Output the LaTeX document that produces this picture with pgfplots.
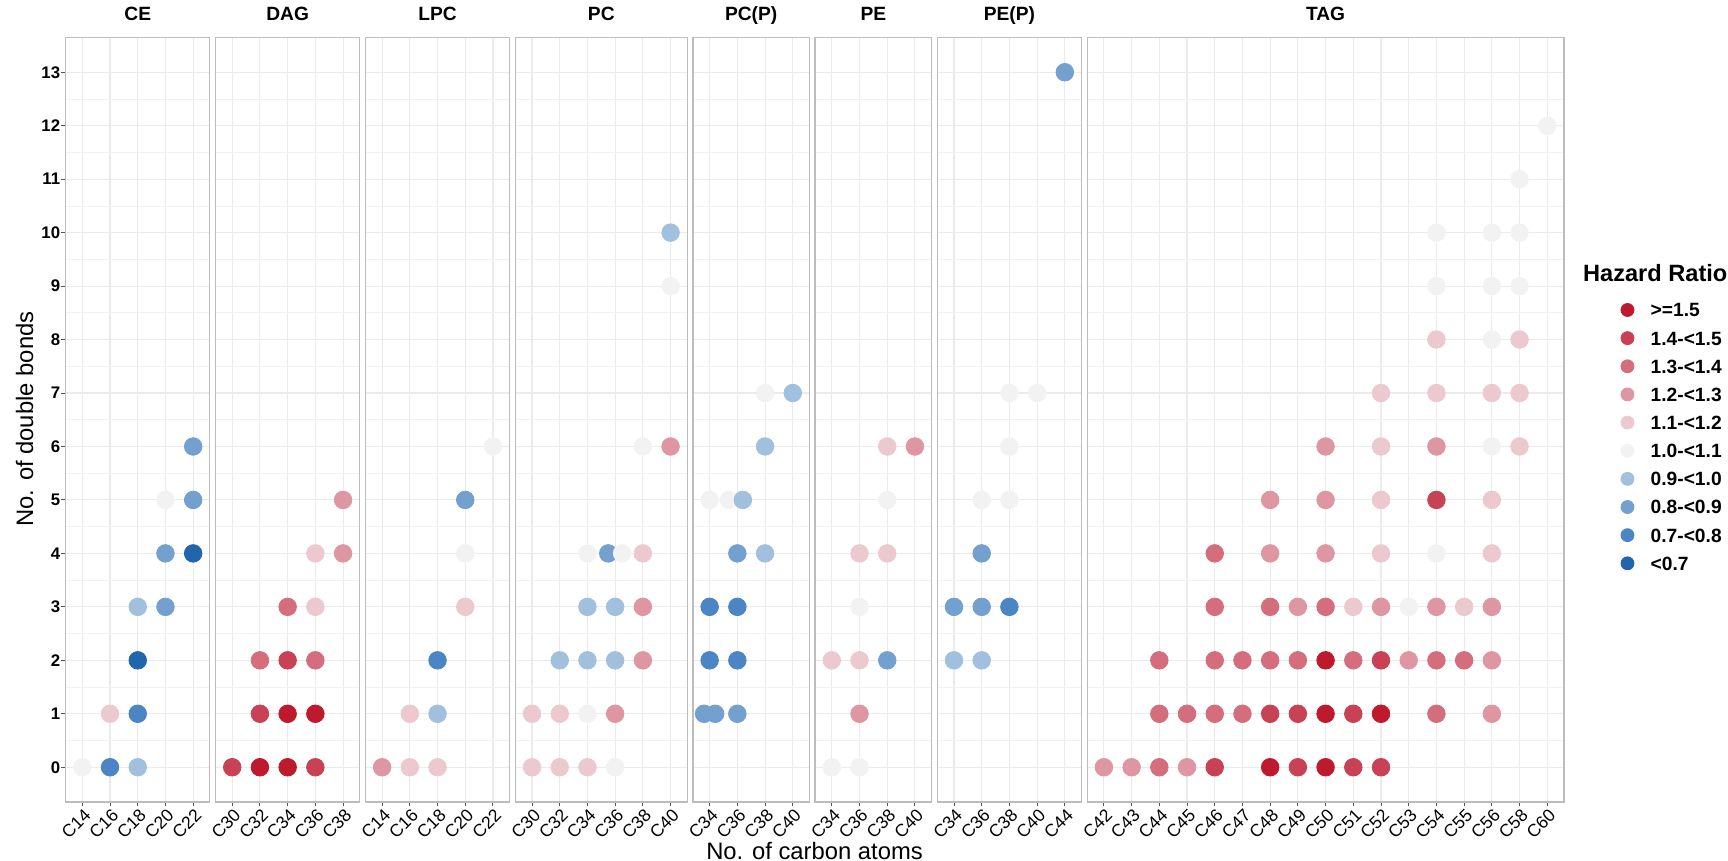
\documentclass[border=0pt]{standalone}
\usepackage{pgfplots}
\usepackage{pgfplotstable}
\pgfplotsset{compat=1.18}
\usepackage{fontspec}
\setmainfont{Liberation Sans}

\definecolor{cA}{HTML}{BE192D}
\definecolor{cB}{HTML}{C84155}
\definecolor{cC}{HTML}{D46E7D}
\definecolor{cD}{HTML}{DE96A2}
\definecolor{cE}{HTML}{ECC8CF}
\definecolor{cF}{HTML}{F2F2F2}
\definecolor{cG}{HTML}{A0C0DE}
\definecolor{cH}{HTML}{73A0CF}
\definecolor{cI}{HTML}{4B85C3}
\definecolor{cJ}{HTML}{2166AC}
\definecolor{gmaj}{HTML}{EBEBEB}
\definecolor{gmin}{HTML}{F2F2F2}
\definecolor{bord}{HTML}{BDBDBD}
\definecolor{tickc}{HTML}{555555}

% columns: x index (0 = first category of the panel), y = no. of double bonds, c = hazard-ratio class
\pgfplotstableread{
x y c
0 0 F
1 0 I
1 1 E
2 0 G
2 1 I
2 2 J
2 3 G
3 3 H
3 4 H
3 5 F
4 4 J
4 5 H
4 6 H
}\tabCE

\pgfplotstableread{
x y c
0 0 B
1 0 A
1 1 B
1 2 C
2 0 A
2 1 A
2 2 B
2 3 C
3 0 B
3 1 A
3 2 C
3 3 E
3 4 E
4 4 D
4 5 D
}\tabDAG

\pgfplotstableread{
x y c
0 0 D
1 0 E
1 1 E
2 0 E
2 1 G
2 2 I
3 3 E
3 4 F
3 5 H
4 6 F
}\tabLPC

\pgfplotstableread{
x y c
0 0 E
0 1 E
1 0 E
1 1 E
1 2 G
2 0 E
2 1 F
2 2 G
2 3 G
2 4 F
3 0 F
3 1 D
3 2 G
3 3 G
2.75 4 H
3.25 4 F
4 2 D
4 3 D
4 4 E
4 6 F
5 6 D
5 9 F
5 10 G
}\tabPC

\pgfplotstableread{
x y c
-0.2 1 H
0.2 1 H
1 1 H
0 2 I
1 2 I
0 3 I
1 3 I
1 4 H
2 4 G
0 5 F
0.7 5 F
1.2 5 G
2 6 G
2 7 F
3 7 G
}\tabPCP

\pgfplotstableread{
x y c
0 0 F
1 0 F
1 1 D
0 2 E
1 2 E
2 2 H
1 3 F
1 4 E
2 4 E
2 5 F
2 6 E
3 6 D
}\tabPE

\pgfplotstableread{
x y c
0 2 G
1 2 G
0 3 H
1 3 H
2 3 I
1 4 H
1 5 F
2 5 F
2 6 F
2 7 F
3 7 F
4 13 H
}\tabPEP

\pgfplotstableread{
x y c
0 0 D
1 0 D
2 0 C
2 1 C
2 2 C
3 0 D
3 1 C
4 0 B
4 1 C
4 2 C
4 3 C
4 4 C
5 1 C
5 2 C
6 0 A
6 1 B
6 2 C
6 3 C
6 4 D
6 5 D
7 0 B
7 1 B
7 2 C
7 3 D
8 0 A
8 1 A
8 2 A
8 3 C
8 4 D
8 5 D
8 6 D
9 0 B
9 1 B
9 2 C
9 3 E
10 0 B
10 1 A
10 2 B
10 3 D
10 4 E
10 5 E
10 6 E
10 7 E
11 2 D
11 3 F
12 1 C
12 2 C
12 3 D
12 4 F
12 5 B
12 6 D
12 7 E
12 8 E
12 9 F
12 10 F
13 2 C
13 3 E
14 1 D
14 2 D
14 3 D
14 4 E
14 5 E
14 6 F
14 7 E
14 8 F
14 9 F
14 10 F
15 6 E
15 7 E
15 8 E
15 9 F
15 10 F
15 11 F
16 12 F
}\tabTAG

\pgfplotsset{
  hr/.style={scatter, only marks, mark size=4.4pt, point meta=explicit symbolic, forget plot,
    scatter/classes={
      A={mark=*,draw=cA,fill=cA},
      B={mark=*,draw=cB,fill=cB},
      C={mark=*,draw=cC,fill=cC},
      D={mark=*,draw=cD,fill=cD},
      E={mark=*,draw=cE,fill=cE},
      F={mark=*,draw=cF,fill=cF},
      G={mark=*,draw=cG,fill=cG},
      H={mark=*,draw=cH,fill=cH},
      I={mark=*,draw=cI,fill=cI},
      J={mark=*,draw=cJ,fill=cJ}}},
  hrleg/.style={only marks, mark=*, mark size=3.25pt, draw=#1, fill=#1,
    legend image code/.code={\draw[mark repeat=2,mark phase=2,##1] plot coordinates {(0pt,0pt) (6.5pt,0pt) (13pt,0pt)};}},
  panel/.style={
    scale only axis, height=382.25pt, anchor=south west,
    ymin=-0.65, ymax=13.65, ytick={0,...,13}, minor y tick num=1,
    grid=both,
    major grid style={draw=gmaj, line width=0.55pt},
    minor grid style={draw=gmin, line width=0.35pt},
    axis line style={draw=bord, line width=0.7pt},
    tick align=outside, xtick pos=bottom, ytick pos=left,
    major tick length=2.2pt, minor tick length=0pt,
    tick style={draw=tickc, line width=0.5pt},
    xticklabel style={font=\fontsize{8.8}{10}\selectfont, rotate=45, anchor=north east, inner sep=0pt, yshift=-0.5pt},
    title style={font=\bfseries\fontsize{9.6}{11}\selectfont, at={(0.5,1)}, anchor=base, yshift=2.65pt, inner sep=0pt},
  },
  noy/.style={yticklabels={}, ytick style={draw=none}},
}

\begin{document}
\begin{tikzpicture}[x=1pt,y=1pt]
\path[use as bounding box] (0,0) rectangle (864,430.5);

\begin{axis}[panel, at={(32.85pt,29.5pt)}, width=72.05pt, xmin=-0.6, xmax=4.6,
  xtick={0,...,4}, xticklabels={C14,C16,C18,C20,C22}, title={CE},
  yticklabels={0,1,2,3,4,5,6,7,8,9,10,11,12,13},
  yticklabel style={font=\bfseries\fontsize{8.4}{10}\selectfont, anchor=east, inner sep=0pt, xshift=-0.4pt}]
\addplot[hr] table[x=x,y=y,meta=c] {\tabCE};
\end{axis}

\begin{axis}[panel, noy, at={(107.8pt,29.5pt)}, width=72.05pt, xmin=-0.6, xmax=4.6,
  xtick={0,...,4}, xticklabels={C30,C32,C34,C36,C38}, title={DAG}]
\addplot[hr] table[x=x,y=y,meta=c] {\tabDAG};
\end{axis}

\begin{axis}[panel, noy, at={(182.75pt,29.5pt)}, width=72.05pt, xmin=-0.6, xmax=4.6,
  xtick={0,...,4}, xticklabels={C14,C16,C18,C20,C22}, title={LPC}]
\addplot[hr] table[x=x,y=y,meta=c] {\tabLPC};
\end{axis}

\begin{axis}[panel, noy, at={(257.7pt,29.5pt)}, width=85.9pt, xmin=-0.6, xmax=5.6,
  xtick={0,...,5}, xticklabels={C30,C32,C34,C36,C38,C40}, title={PC}]
\addplot[hr] table[x=x,y=y,meta=c] {\tabPC};
\end{axis}

\begin{axis}[panel, noy, at={(346.5pt,29.5pt)}, width=58.19pt, xmin=-0.6, xmax=3.6,
  xtick={0,...,3}, xticklabels={C34,C36,C38,C40}, title={PC(P)}]
\addplot[hr] table[x=x,y=y,meta=c] {\tabPCP};
\end{axis}

\begin{axis}[panel, noy, at={(407.59pt,29.5pt)}, width=58.19pt, xmin=-0.6, xmax=3.6,
  xtick={0,...,3}, xticklabels={C34,C36,C38,C40}, title={PE}]
\addplot[hr] table[x=x,y=y,meta=c] {\tabPE};
\end{axis}

\begin{axis}[panel, noy, at={(468.68pt,29.5pt)}, width=72.05pt, xmin=-0.6, xmax=4.6,
  xtick={0,...,4}, xticklabels={C34,C36,C38,C40,C44}, title={PE(P)}]
\addplot[hr] table[x=x,y=y,meta=c] {\tabPEP};
\end{axis}

\begin{axis}[panel, noy, at={(543.63pt,29.5pt)}, width=238.31pt, xmin=-0.6, xmax=16.6,
  xtick={0,...,16}, xticklabels={C42,C43,C44,C45,C46,C47,C48,C49,C50,C51,C52,C53,C54,C55,C56,C58,C60},
  title={TAG},
  legend cell align=left,
  legend style={at={(1.1198,0.662)}, anchor=north west, draw=none, fill=none,
    inner sep=0pt, outer sep=0pt, row sep=0pt,
    font=\bfseries\fontsize{9.6}{11}\selectfont,
    nodes={inner sep=0pt, minimum height=14.075pt, text height=6.9pt, text depth=0pt},
    /tikz/every odd column/.append style={column sep=8.35pt}}]
\addplot[hr] table[x=x,y=y,meta=c] {\tabTAG};
\addlegendimage{hrleg=cA}\addlegendentry{>=1.5}
\addlegendimage{hrleg=cB}\addlegendentry{1.4-<1.5}
\addlegendimage{hrleg=cC}\addlegendentry{1.3-<1.4}
\addlegendimage{hrleg=cD}\addlegendentry{1.2-<1.3}
\addlegendimage{hrleg=cE}\addlegendentry{1.1-<1.2}
\addlegendimage{hrleg=cF}\addlegendentry{1.0-<1.1}
\addlegendimage{hrleg=cG}\addlegendentry{0.9-<1.0}
\addlegendimage{hrleg=cH}\addlegendentry{0.8-<0.9}
\addlegendimage{hrleg=cI}\addlegendentry{0.7-<0.8}
\addlegendimage{hrleg=cJ}\addlegendentry{<0.7}
\end{axis}

\node[anchor=west, inner sep=0pt, font=\bfseries\fontsize{11.8}{14}\selectfont] at (791.35,294) {Hazard Ratio};
\node[anchor=base, inner sep=0pt, font=\fontsize{11.9}{14}\selectfont] at (407.25,0.8) {No. of carbon atoms};
\node[rotate=90, anchor=base, inner sep=0pt, font=\fontsize{11.9}{14}\selectfont] at (16.5,220.9) {No. of double bonds};
\end{tikzpicture}
\end{document}
